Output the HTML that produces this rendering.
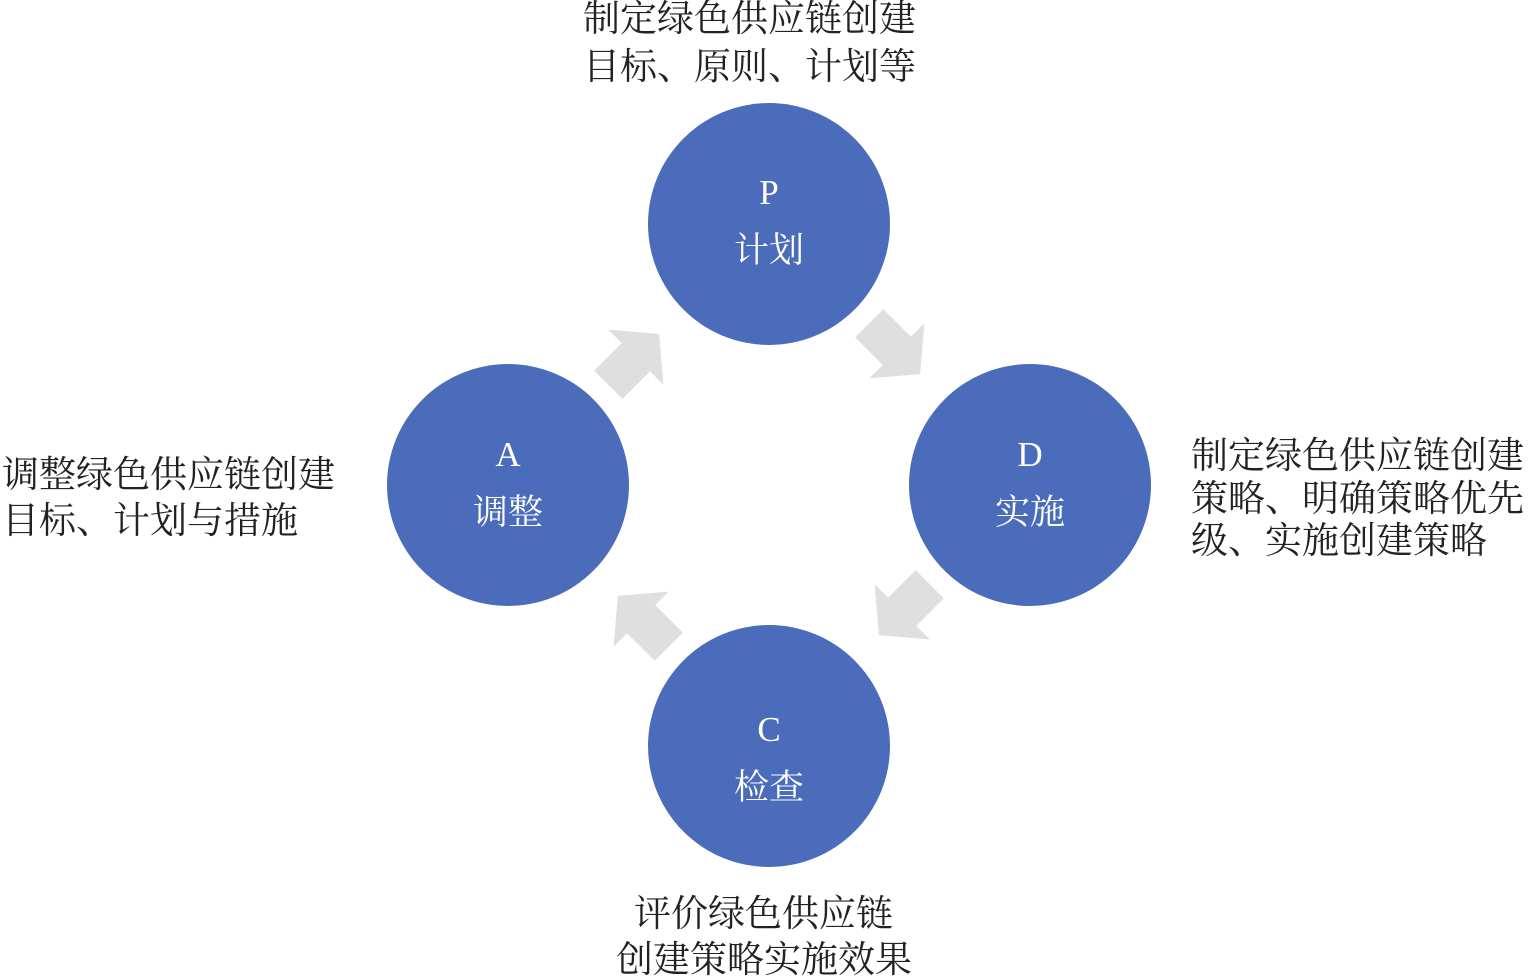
<!DOCTYPE html>
<html><head><meta charset="utf-8"><style>
body{margin:0;background:#fff;}
svg{display:block}
.t{font-family:"Liberation Serif","Noto Serif CJK SC",serif;font-size:37px;fill:#222}
.w{font-family:"Liberation Serif","Noto Serif CJK SC",serif;font-size:35px;fill:#fff}
</style></head><body>
<svg width="1528" height="980" viewBox="0 0 1528 980">
<defs><polygon id="ar" points="-35,-20 4,-20 4,-39 37,0 4,39 4,20 -35,20" fill="#e0dfe0"/></defs>
<circle cx="769" cy="224" r="121" fill="#4a6cbb"/>
<circle cx="1030" cy="485" r="121" fill="#4a6cbb"/>
<circle cx="508" cy="485" r="121" fill="#4a6cbb"/>
<circle cx="769" cy="746" r="121" fill="#4a6cbb"/>
<use href="#ar" transform="translate(894,348) rotate(45)"/>
<use href="#ar" transform="translate(905,609) rotate(135)"/>
<use href="#ar" transform="translate(644,622) rotate(225)"/>
<use href="#ar" transform="translate(633,360) rotate(-45)"/>
<g class="w" text-anchor="middle">
<text x="769" y="204">P</text><text x="769" y="262">计划</text>
<text x="1030" y="466">D</text><text x="1030" y="524">实施</text>
<text x="508" y="466">A</text><text x="508" y="524">调整</text>
<text x="769" y="741">C</text><text x="769" y="799">检查</text>
</g>
<g class="t">
<text x="583" y="31">制定绿色供应链创建</text>
<text x="583" y="79">目标、原则、计划等</text>
<text x="1191" y="468">制定绿色供应链创建</text>
<text x="1191" y="511">策略、明确策略优先</text>
<text x="1191" y="553">级、实施创建策略</text>
<text x="2" y="487">调整绿色供应链创建</text>
<text x="2" y="533">目标、计划与措施</text>
<text x="634" y="926">评价绿色供应链</text>
<text x="616" y="972">创建策略实施效果</text>
</g>
</svg>
</body></html>
